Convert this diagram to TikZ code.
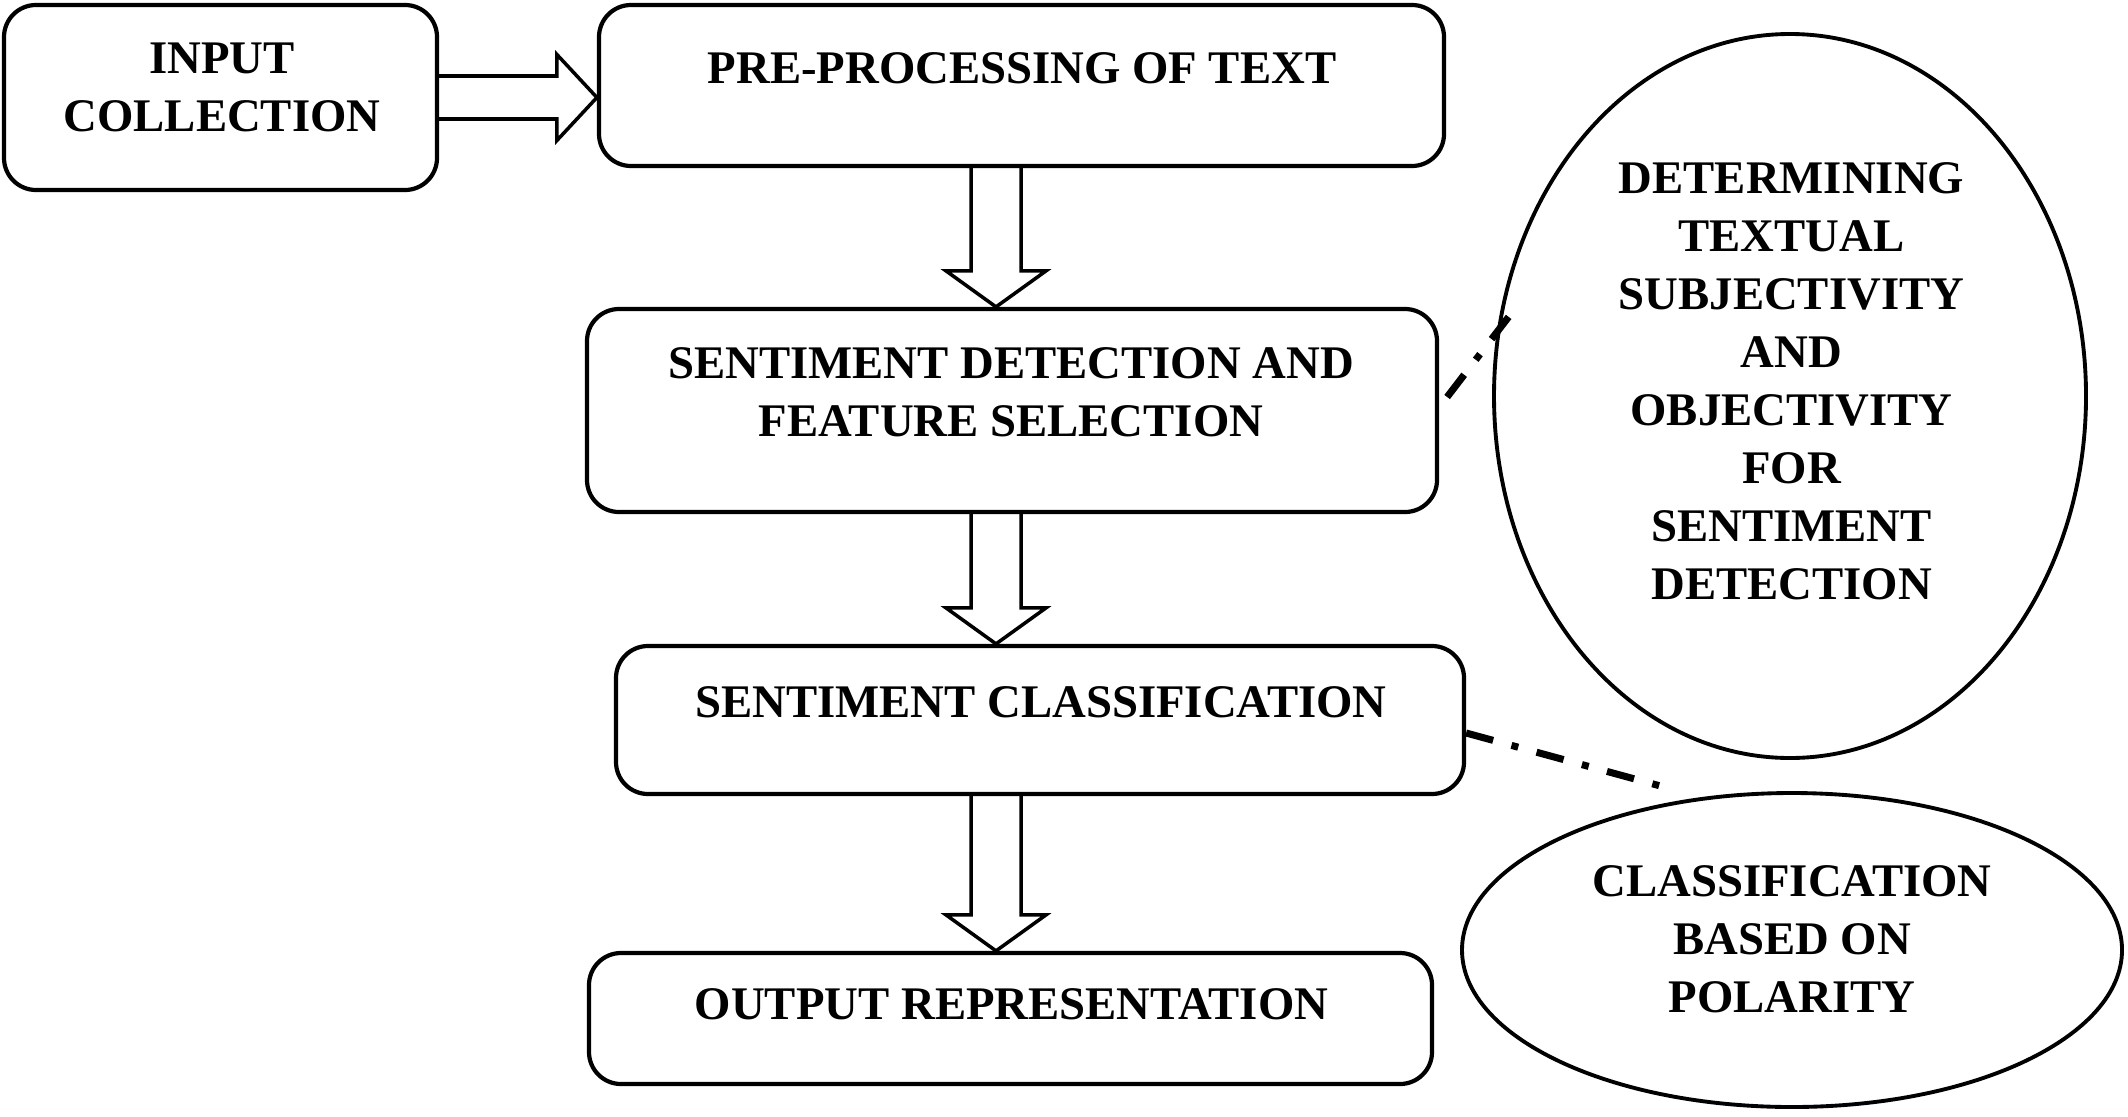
\documentclass[tikz,border=0pt]{standalone}
\usepackage{fontspec}
\setmainfont{Liberation Serif}
\usetikzlibrary{shapes.geometric,calc}

\begin{document}
\begin{tikzpicture}[align=center,
    font={\fontsize{13.3}{16.5}\selectfont\bfseries},
    stage/.style={draw=black, line width=1.2pt, rectangle, rounded corners=0.32cm, inner sep=0pt},
    bubble/.style={draw=black, line width=1.1pt, ellipse, inner sep=0pt},
    caption/.style={inner sep=0pt},
    fatarrow/.style={draw=black, line width=1pt, line join=miter},
    dashdot/.style={draw=black, line width=2pt, dash pattern=on 0.28cm off 0.19cm on 0.07cm off 0.19cm}]
      \useasboundingbox (0,0) rectangle (21.28,11.16);
      %
      \node[stage, minimum width=4.33cm, minimum height=1.85cm] (in) at (2.205,10.185) {};
      \node[stage, minimum width=8.45cm, minimum height=1.61cm] (pre) at (10.215,10.305) {};
      \node[stage, minimum width=8.50cm, minimum height=2.03cm] (det) at (10.12,7.055) {};
      \node[stage, minimum width=8.48cm, minimum height=1.48cm] (cls) at (10.40,3.96) {};
      \node[stage, minimum width=8.43cm, minimum height=1.31cm] (out) at (10.105,0.975) {};
      %
      \node[caption] (inT) at (2.22,10.29) {INPUT\\COLLECTION};
      \node[caption] (preT) at (10.22,10.48) {PRE-PROCESSING OF TEXT};
      \node[caption] (detT) at (10.11,7.235) {SENTIMENT DETECTION AND\\FEATURE SELECTION};
      \node[caption] (clsT) at (10.41,4.135) {SENTIMENT CLASSIFICATION};
      \node[caption] (outT) at (10.115,1.12) {OUTPUT REPRESENTATION};
      %
      \node[bubble, minimum width=5.92cm, minimum height=7.24cm] (big) at (17.90,7.20) {};
      \node[caption] (bigT) at (17.915,7.35) {DETERMINING\\TEXTUAL\\SUBJECTIVITY\\AND\\OBJECTIVITY\\FOR\\SENTIMENT\\DETECTION};
      \node[bubble, minimum width=6.60cm, minimum height=3.14cm] (small) at (17.92,1.66) {};
      \node[caption] (smallT) at (17.92,1.765) {CLASSIFICATION\\BASED ON\\POLARITY};
      %
      \draw[fatarrow] ($(in.east)+(0,0.215)$) -- ($(pre.west |- in.east)+(-0.40,0.215)$)
        -- ($(pre.west |- in.east)+(-0.40,0.43)$) -- (pre.west |- in.east)
        -- ($(pre.west |- in.east)+(-0.40,-0.43)$) -- ($(pre.west |- in.east)+(-0.40,-0.215)$)
        -- ($(in.east)+(0,-0.215)$);
      %
      \coordinate (spine) at (9.96,0);
      \foreach \a/\b in {pre/det, det/cls, cls/out}{
        \draw[fatarrow] ($(\a.south -| spine)+(-0.25,0)$) -- ($(\b.north -| spine)+(-0.25,0.36)$)
          -- ($(\b.north -| spine)+(-0.50,0.36)$) -- (\b.north -| spine)
          -- ($(\b.north -| spine)+(0.50,0.36)$) -- ($(\b.north -| spine)+(0.25,0.36)$)
          -- ($(\a.south -| spine)+(0.25,0)$);
      }
      %
      \draw[dashdot] ($(det.east)+(0.08,0.135)$) -- ($(big.west)+(0.18,0.81)$);
      \draw[dashdot] ($(cls.east)+(0,-0.13)$) -- ($(small.north)+(-1.24,0.03)$);
\end{tikzpicture}
\end{document}
